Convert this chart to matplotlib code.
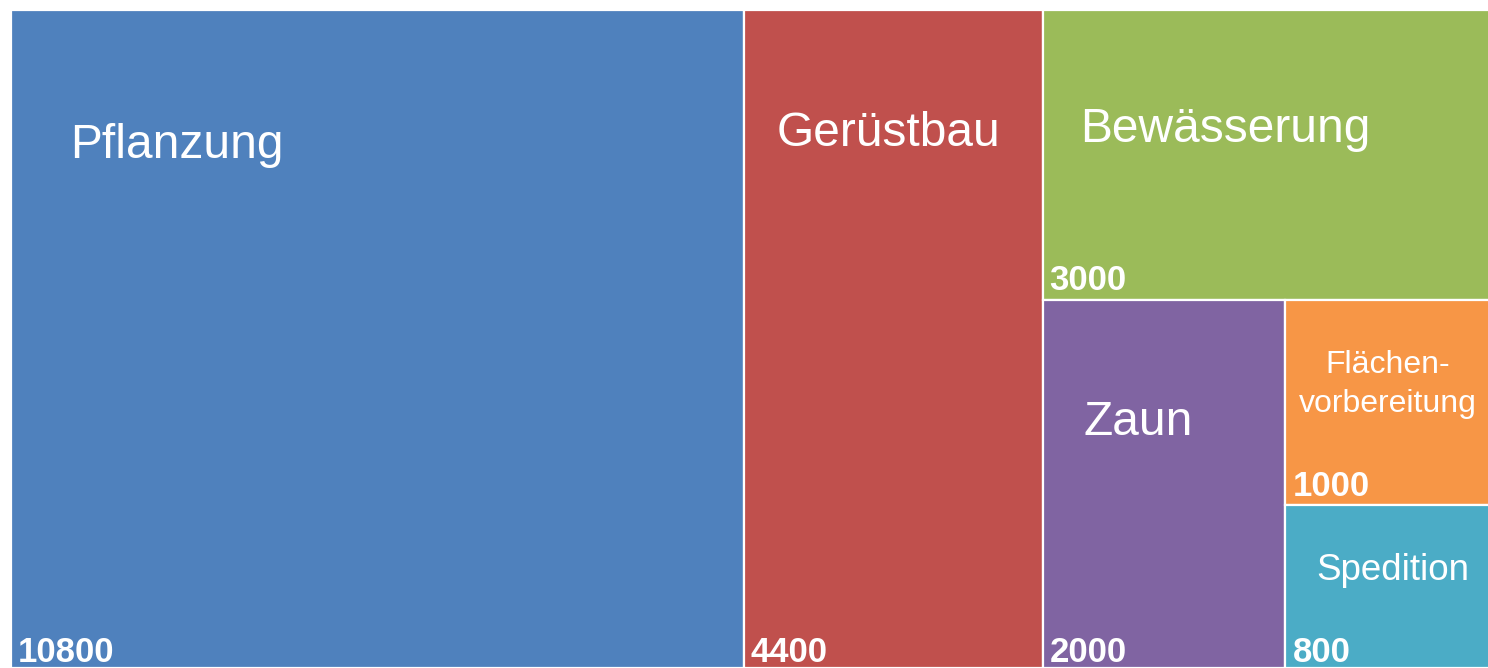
import matplotlib.pyplot as plt
from matplotlib.patches import Rectangle

plt.rcParams["font.family"] = ["Liberation Sans", "DejaVu Sans"]

categories = ["Pflanzung", "Gerüstbau", "Bewässerung", "Zaun", "Flächen-\nvorbereitung", "Spedition"]
values = [10800, 4400, 3000, 2000, 1000, 800]
colors = ["#4F81BD", "#C0504D", "#9BBB59", "#8064A2", "#F79646", "#4BACC6"]

# label placement (pixels from the box's top-left corner) and font sizes
name_offsets = [(59, 135), (33, 123), (38, 119), (41, 122), (13, 84), (31, 66)]
name_sizes = [34.5, 34.5, 34.5, 34.5, 23, 26.5]
value_pads = [6, 6, 10, 6, 9, 6]

W, H = 1493.0, 658.0  # plot area in pixels


def slice_layout(vals, x, y, w, h):
    """Each item takes a slice across the longer side of what is left."""
    rects = []
    rest = float(sum(vals))
    for v in vals:
        frac = v / rest
        if w >= h:
            rects.append((x, y, w * frac, h))
            x += w * frac
            w -= w * frac
        else:
            # top slice (y grows downward here)
            rects.append((x, y, w, h * frac))
            y += h * frac
            h -= h * frac
        rest -= v
    return rects


fig = plt.figure(figsize=(14.88, 6.68), dpi=100)
ax = fig.add_axes([11 / 1488, 0 / 668, W / 1488, H / 668])
ax.set_xlim(0, W)
ax.set_ylim(H, 0)
ax.axis("off")

rects = slice_layout(values, 0, 0, W, H)
for (x, y, w, h), name, val, c, off, fs, pad in zip(rects, categories, values, colors,
                                                    name_offsets, name_sizes, value_pads):
    ax.add_patch(Rectangle((x, y), w, h, facecolor=c, edgecolor="white", linewidth=1.6))
    ax.annotate(name, xy=(x, y), xycoords="data", xytext=(off[0], -off[1]),
                textcoords="offset pixels", ha="left", va="center",
                multialignment="center", fontsize=fs, color="white", linespacing=1.4)
    ax.annotate(str(val), xy=(x, y + h), xycoords="data", xytext=(7, pad),
                textcoords="offset pixels", ha="left", va="baseline",
                fontsize=25, fontweight="bold", color="white")

fig.savefig("out.png", dpi=100)
